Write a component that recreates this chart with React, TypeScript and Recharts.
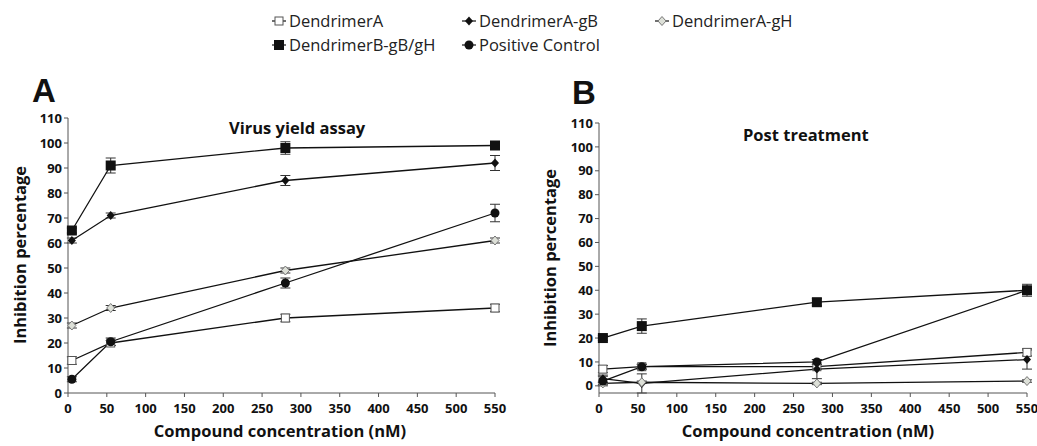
import React from "react";
import { LineChart, Line, XAxis, YAxis, ErrorBar } from "recharts";

// x values shared by both panels (nM)
const concentrations = [5, 55, 280, 550];
const xTicks = [0, 50, 100, 150, 200, 250, 300, 350, 400, 450, 500, 550];
const yTicks = [0, 10, 20, 30, 40, 50, 60, 70, 80, 90, 100, 110];

// Panel A - virus yield assay
const yieldDendA = [13, 20, 30, 34];
const yieldDendAErr = [1.5, 1, 1.5, 1.5];
const yieldDendAgB = [61, 71, 85, 92];
const yieldDendAgBErr = [1, 1, 2, 3];
const yieldDendAgH = [27, 34, 49, 61];
const yieldDendAgHErr = [1, 1, 1, 1];
const yieldDendBgBgH = [65, 91, 98, 99];
const yieldDendBgBgHErr = [1, 3, 2.5, 1.5];
const yieldPositive = [5.5, 20.5, 44, 72];
const yieldPositiveErr = [1, 1.5, 2, 3.5];

// Panel B - post treatment
const postDendA = [7, 8, 8, 14];
const postDendAErr = [1.5, 1, 1, 1.5];
const postDendAgB = [3, 1, 7, 11];
const postDendAgBErr = [1.5, 4, 4, 4];
const postDendAgH = [1, 1.5, 1, 2];
const postDendAgHErr = [0.5, 0.5, 0.5, 0.5];
const postDendBgBgH = [20, 25, 35, 40];
const postDendBgBgHErr = [1, 3, 1.5, 2.5];
const postPositive = [2, 8, 10, 40];
const postPositiveErr = [2, 1, 1, 1];

type Shape = "openSquare" | "filledDiamond" | "openDiamond" | "filledSquare" | "filledCircle";

const seriesDefs: { key: string; name: string; shape: Shape }[] = [
  { key: "dA", name: "DendrimerA", shape: "openSquare" },
  { key: "dAgB", name: "DendrimerA-gB", shape: "filledDiamond" },
  { key: "dAgH", name: "DendrimerA-gH", shape: "openDiamond" },
  { key: "dB", name: "DendrimerB-gB/gH", shape: "filledSquare" },
  { key: "pc", name: "Positive Control", shape: "filledCircle" },
];

const yieldData = concentrations.map((c, i) => ({
  conc: c,
  dA: yieldDendA[i], dAErr: yieldDendAErr[i],
  dAgB: yieldDendAgB[i], dAgBErr: yieldDendAgBErr[i],
  dAgH: yieldDendAgH[i], dAgHErr: yieldDendAgHErr[i],
  dB: yieldDendBgBgH[i], dBErr: yieldDendBgBgHErr[i],
  pc: yieldPositive[i], pcErr: yieldPositiveErr[i],
}));

const postData = concentrations.map((c, i) => ({
  conc: c,
  dA: postDendA[i], dAErr: postDendAErr[i],
  dAgB: postDendAgB[i], dAgBErr: postDendAgBErr[i],
  dAgH: postDendAgH[i], dAgHErr: postDendAgHErr[i],
  dB: postDendBgBgH[i], dBErr: postDendBgBgHErr[i],
  pc: postPositive[i], pcErr: postPositiveErr[i],
}));

const FONT = "'Open Sans', sans-serif";
const INK = "#111";

function Marker({ shape, cx, cy }: { shape: Shape; cx: number; cy: number }) {
  switch (shape) {
    case "openSquare":
      return <rect x={cx - 4} y={cy - 4} width={8} height={8} fill="#fff" stroke="#555" strokeWidth={1} />;
    case "filledDiamond":
      return <polygon points={`${cx},${cy - 4.5} ${cx + 4},${cy} ${cx},${cy + 4.5} ${cx - 4},${cy}`} fill={INK} />;
    case "openDiamond":
      return (
        <polygon
          points={`${cx},${cy - 4.5} ${cx + 4},${cy} ${cx},${cy + 4.5} ${cx - 4},${cy}`}
          fill="#dde0d8"
          stroke="#777"
          strokeWidth={1}
        />
      );
    case "filledSquare":
      return <rect x={cx - 5} y={cy - 5} width={10} height={10} fill={INK} />;
    case "filledCircle":
      return <circle cx={cx} cy={cy} r={4.5} fill={INK} />;
  }
}

const dotFor = (shape: Shape) => (props: any) => {
  const { cx, cy, index } = props;
  if (cx == null || cy == null) return <g key={`d-${index}`} />;
  return (
    <g key={`d-${shape}-${index}`}>
      <Marker shape={shape} cx={cx} cy={cy} />
    </g>
  );
};

const tickStyle = { fontSize: 13, fontWeight: 700, fill: INK, fontFamily: FONT };

type PanelProps = {
  data: typeof yieldData;
  left: number;
  width: number;
  margin: { top: number; right: number; bottom: number; left: number };
};

function Panel({ data, left, width, margin }: PanelProps) {
  return (
    <div style={{ position: "absolute", left, top: 0 }}>
      <LineChart width={width} height={446} data={data} margin={margin}>
        <XAxis
          dataKey="conc"
          type="number"
          domain={[0, 550]}
          ticks={xTicks}
          interval={0}
          tick={tickStyle}
          tickSize={4}
          tickMargin={7}
          axisLine={{ stroke: "#555" }}
          tickLine={{ stroke: "#555" }}
          height={22}
        />
        <YAxis
          type="number"
          domain={[0, 110]}
          ticks={yTicks}
          interval={0}
          tick={tickStyle}
          tickSize={4}
          tickMargin={2}
          axisLine={{ stroke: "#555" }}
          tickLine={{ stroke: "#555" }}
          width={40}
        />
        {seriesDefs.map((s) => (
          <Line
            key={s.key}
            dataKey={s.key}
            name={s.name}
            type="linear"
            stroke={INK}
            strokeWidth={1.3}
            dot={dotFor(s.shape)}
            activeDot={false}
            isAnimationActive={false}
          >
            <ErrorBar dataKey={`${s.key}Err`} width={5} stroke="#333" strokeWidth={1} direction="y" />
          </Line>
        ))}
      </LineChart>
    </div>
  );
}

const legendPos: { x: number; y: number }[] = [
  { x: 272, y: 21 },
  { x: 462, y: 21 },
  { x: 655, y: 21 },
  { x: 272, y: 45 },
  { x: 462, y: 45 },
];

export default function App() {
  return (
    <div style={{ position: "absolute", left: 0, top: 0, width: 1037, height: 446, background: "#fff", overflow: "hidden" }}>
      <Panel data={yieldData} left={0} width={520} margin={{ top: 118, right: 25, bottom: 31, left: 28 }} />
      <Panel data={postData} left={520} width={517} margin={{ top: 123, right: 10, bottom: 31, left: 39 }} />

      <svg width={1037} height={446} style={{ position: "absolute", left: 0, top: 0, pointerEvents: "none" }}>
        {/* legend */}
        {seriesDefs.map((s, i) => {
          const p = legendPos[i];
          return (
            <g key={s.key}>
              <line x1={p.x} y1={p.y} x2={p.x + 14} y2={p.y} stroke={INK} strokeWidth={1.2} />
              <Marker shape={s.shape} cx={p.x + 7} cy={p.y} />
              <text x={p.x + 17} y={p.y + 6} fontFamily={FONT} fontSize={16.5} fill="#222">
                {s.name}
              </text>
            </g>
          );
        })}

        {/* panel letters */}
        <text x={32} y={102} fontFamily="'Liberation Sans', Arial, sans-serif" fontWeight={700} fontSize={33} fill={INK}>A</text>
        <text x={572} y={104} fontFamily="'Liberation Sans', Arial, sans-serif" fontWeight={700} fontSize={33} fill={INK}>B</text>

        {/* titles */}
        <text x={229} y={134} fontFamily={FONT} fontWeight={700} fontSize={16.5} fill={INK}>Virus yield assay</text>
        <text x={743} y={141} fontFamily={FONT} fontWeight={700} fontSize={16.5} fill={INK}>Post treatment</text>

        {/* axis labels */}
        <text x={280} y={437} textAnchor="middle" fontFamily={FONT} fontWeight={700} fontSize={16.5} fill={INK}>
          Compound concentration (nM)
        </text>
        <text x={808} y={437} textAnchor="middle" fontFamily={FONT} fontWeight={700} fontSize={16.5} fill={INK}>
          Compound concentration (nM)
        </text>
        <text
          x={0}
          y={0}
          transform="translate(26,255) rotate(-90)"
          textAnchor="middle"
          fontFamily={FONT}
          fontWeight={700}
          fontSize={16.5}
          fill={INK}
        >
          Inhibition percentage
        </text>
        <text
          x={0}
          y={0}
          transform="translate(556,258) rotate(-90)"
          textAnchor="middle"
          fontFamily={FONT}
          fontWeight={700}
          fontSize={16.5}
          fill={INK}
        >
          Inhibition percentage
        </text>
      </svg>
    </div>
  );
}
